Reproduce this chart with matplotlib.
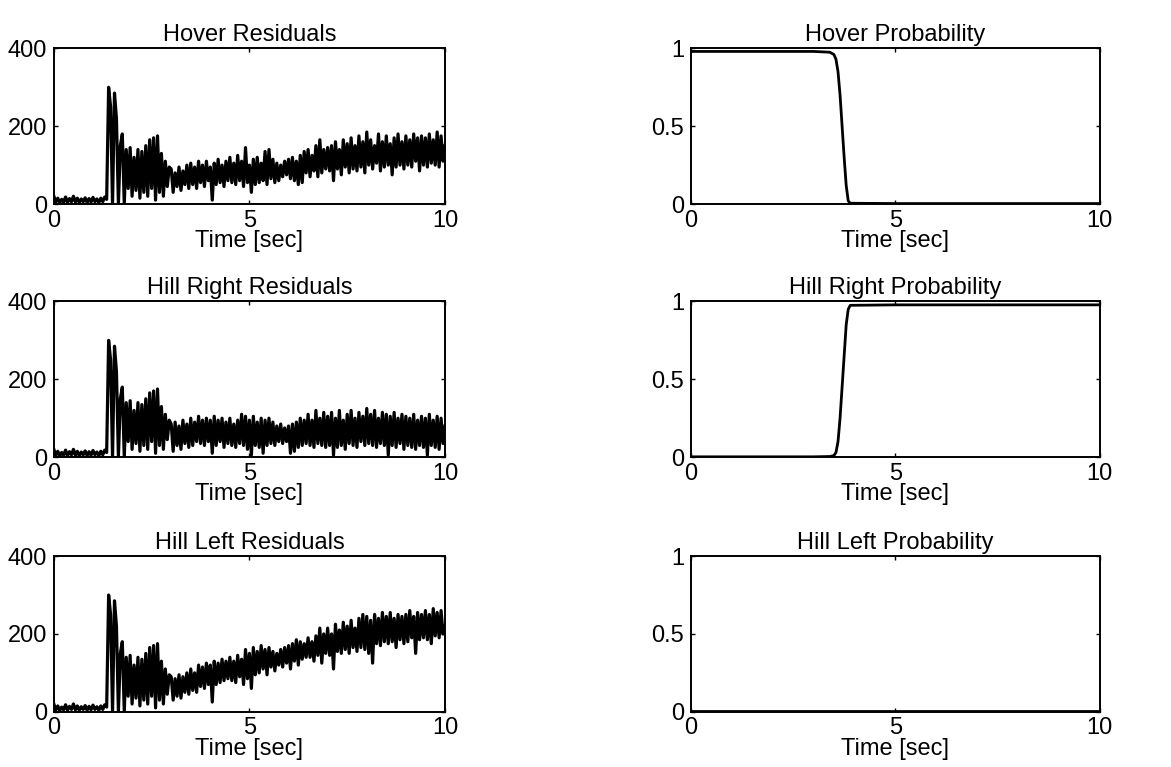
import numpy as np
import matplotlib
matplotlib.use("Agg")
import matplotlib.pyplot as plt

plt.rcParams['font.family'] = ['Liberation Sans', 'DejaVu Sans']

# residual samples every 0.05 s
dt = 0.05

# start-up transient, same for all three models (0 - 2.95 s)
onset = [20, 5, 15, 3, 12, 5, 18, 4, 14, 6,
         20, 5, 15, 4, 13, 6, 16, 4, 14, 5,
         17, 6, 13, 4, 15, 6, 18, 12, 300, 250,
         0, 285, 220, 0, 150, 180, 0, 140, 40, 145,
         20, 120, 35, 140, 15, 135, 30, 150, 20, 165,
         40, 170, 10, 175, 30, 130, 20, 110, 45, 95]

# 3.00 - 10.00 s
hover_tail = [90, 30, 80, 45, 95, 35, 85, 50, 100, 40,
              105, 50, 95, 40, 110, 55, 100, 45, 110, 60,
              95, 10, 105, 50, 115, 55, 100, 45, 110, 60,
              120, 55, 105, 50, 125, 60, 110, 45, 145, 55,
              100, 30, 115, 50, 120, 55, 105, 60, 135, 50,
              140, 65, 115, 55, 105, 60, 100, 70, 110, 75,
              115, 65, 120, 60, 110, 50, 125, 55, 135, 80,
              140, 70, 125, 85, 150, 70, 165, 80, 140, 90,
              145, 85, 150, 60, 160, 90, 140, 75, 165, 95,
              155, 80, 170, 90, 150, 85, 175, 95, 160, 80,
              185, 100, 165, 90, 150, 105, 180, 85, 160, 95,
              175, 100, 155, 75, 170, 95, 180, 100, 160, 90,
              175, 100, 165, 95, 180, 110, 170, 85, 175, 100,
              170, 95, 180, 105, 165, 100, 185, 95, 175, 110,
              150]

right_tail = [85, 15, 90, 30, 80, 20, 95, 35, 85, 25,
              100, 30, 90, 40, 105, 35, 95, 30, 100, 40,
              95, 10, 105, 30, 95, 40, 100, 25, 90, 35,
              100, 30, 85, 25, 95, 35, 110, 30, 105, 20,
              95, 5, 105, 30, 90, 25, 100, 10, 95, 30,
              100, 35, 90, 30, 80, 40, 85, 35, 75, 40,
              80, 10, 85, 15, 90, 25, 100, 30, 95, 35,
              110, 30, 95, 25, 120, 35, 100, 30, 115, 25,
              105, 30, 115, 5, 100, 25, 120, 30, 95, 20,
              110, 35, 120, 30, 100, 25, 115, 40, 105, 30,
              125, 35, 110, 30, 120, 25, 100, 35, 115, 30,
              110, 5, 105, 30, 115, 25, 100, 35, 110, 20,
              105, 30, 100, 25, 110, 20, 95, 30, 105, 25,
              100, 5, 110, 30, 95, 25, 105, 20, 100, 35,
              80]

left_tail = [90, 30, 85, 40, 95, 35, 90, 50, 100, 45,
             110, 55, 100, 50, 120, 65, 115, 60, 125, 70,
             120, 25, 130, 70, 125, 75, 135, 80, 130, 85,
             140, 80, 130, 75, 145, 90, 135, 70, 160, 85,
             150, 60, 165, 95, 155, 100, 170, 110, 160, 95,
             165, 115, 155, 105, 150, 120, 160, 115, 165, 125,
             170, 110, 175, 130, 185, 120, 180, 135, 175, 140,
             190, 140, 180, 130, 195, 145, 215, 125, 200, 150,
             215, 145, 200, 110, 225, 155, 210, 150, 230, 160,
             220, 150, 235, 165, 215, 155, 240, 165, 250, 160,
             245, 150, 235, 125, 250, 175, 240, 170, 255, 180,
             245, 175, 255, 180, 240, 165, 250, 185, 245, 175,
             250, 180, 260, 190, 245, 150, 255, 185, 250, 190,
             260, 185, 250, 175, 265, 195, 255, 190, 260, 200,
             220]

# model probabilities
t_prob = [0, 1, 2, 3, 3.4, 3.5, 3.55, 3.6, 3.65, 3.7, 3.75, 3.8, 3.85, 3.9, 5, 10]
p_hover = [0.98, 0.98, 0.98, 0.98, 0.975, 0.96, 0.93, 0.85, 0.7, 0.5, 0.3, 0.12, 0.02, 0.005, 0.003, 0.003]
p_right = [0.002, 0.002, 0.002, 0.002, 0.004, 0.01, 0.03, 0.1, 0.25, 0.45, 0.65, 0.85, 0.95, 0.975, 0.978, 0.978]
p_left = [0.002] * len(t_prob)

titles_res = ['Hover Residuals', 'Hill Right Residuals', 'Hill Left Residuals']
titles_prob = ['Hover Probability', 'Hill Right Probability', 'Hill Left Probability']

t_res = np.arange(len(onset) + len(hover_tail)) * dt
residuals = [onset + hover_tail, onset + right_tail, onset + left_tail]
probs = [p_hover, p_right, p_left]

fig = plt.figure(figsize=(11.71, 7.67), dpi=100)

bottoms = [0.734, 0.404, 0.072]
h = 0.203
fs = 17


def style(ax, yticks, ylabels):
    ax.set_xlim(0, 10)
    ax.set_xticks([0, 5, 10])
    ax.set_xticklabels(['0', '5', '10'])
    ax.set_yticks(yticks)
    ax.set_yticklabels(ylabels)
    ax.tick_params(direction='in', length=3, width=1, labelsize=fs,
                   top=True, right=True)
    ax.tick_params(axis='x', pad=4)
    ax.tick_params(axis='y', pad=5)
    for s in ax.spines.values():
        s.set_linewidth(1.4)
    ax.set_xlabel('Time [sec]', fontsize=fs, labelpad=-1)


for i in range(3):
    ax = fig.add_axes([0.046, bottoms[i], 0.334, h])
    ax.plot(t_res, residuals[i], color='black', lw=2.3)
    ax.set_ylim(0, 400)
    style(ax, [0, 200, 400], ['0', '200', '400'])
    ax.set_title(titles_res[i], fontsize=fs, pad=5)

    ax2 = fig.add_axes([0.590, bottoms[i], 0.349, h])
    ax2.plot(t_prob, probs[i], color='black', lw=2)
    ax2.set_ylim(0, 1)
    style(ax2, [0, 0.5, 1], ['0', '0.5', '1'])
    ax2.set_title(titles_prob[i], fontsize=fs, pad=5)

fig.savefig('out.png', dpi=100)
